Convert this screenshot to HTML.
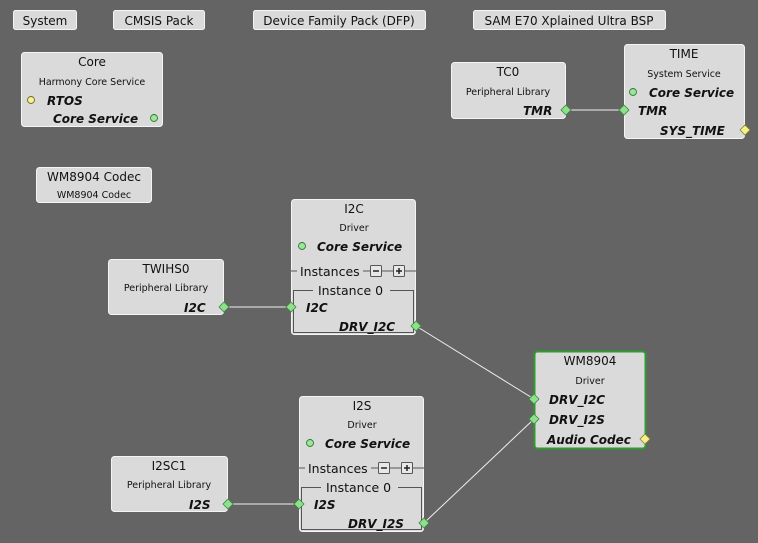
<!DOCTYPE html>
<html><head><meta charset="utf-8"><style>
html,body{margin:0;padding:0;background:#646464;}
svg{display:block;font-family:"DejaVu Sans","Liberation Sans",sans-serif;}
.b{fill:#dadada;stroke:#f4f4f4;stroke-width:1;}
.t{font-size:12px;fill:#111;text-anchor:middle;}
.s{font-size:9.5px;fill:#111;text-anchor:middle;}
.p{font-size:12px;font-weight:bold;font-style:italic;fill:#111;}
.d{fill:#8ee08e;stroke:#3a8a3a;stroke-width:0.8;}
.y{fill:#f4f08a;stroke:#8a8530;stroke-width:0.8;}
.g{fill:#9de59d;stroke:#2f7a2f;stroke-width:0.9;}
.yc{fill:#f6f29a;stroke:#6f6a20;stroke-width:0.9;}
</style></head><body>
<svg width="758" height="543" viewBox="0 0 758 543">
<!-- top buttons -->
<rect class="b" x="13.5" y="10.5" width="63" height="19" rx="2"/><text class="t" x="45" y="25">System</text>
<rect class="b" x="113.5" y="10.5" width="91" height="19" rx="2"/><text class="t" x="159" y="25">CMSIS Pack</text>
<rect class="b" x="253.5" y="10.5" width="172" height="19" rx="2"/><text class="t" x="339" y="25">Device Family Pack (DFP)</text>
<rect class="b" x="473.5" y="10.5" width="192" height="19" rx="2"/><text class="t" x="569" y="25">SAM E70 Xplained Ultra BSP</text>

<!-- connectors -->
<g stroke="#f0f0f0" stroke-width="1">
<line x1="566" y1="110" x2="624" y2="110"/>
<line x1="224" y1="307" x2="291" y2="307"/>
<line x1="228" y1="504" x2="299" y2="504"/>
<line x1="416" y1="326" x2="534" y2="399"/>
<line x1="424" y1="523" x2="534" y2="419"/>
</g>

<!-- Core -->
<rect class="b" x="21.5" y="52.5" width="141" height="74" rx="3"/>
<text class="t" x="92" y="66">Core</text>
<text class="s" x="92" y="85">Harmony Core Service</text>
<circle class="yc" cx="31" cy="100" r="3.5"/><text class="p" x="47" y="105">RTOS</text>
<text class="p" x="53" y="123">Core Service</text><circle class="g" cx="154" cy="118" r="3.5"/>

<!-- WM8904 Codec -->
<rect class="b" x="36.5" y="167.5" width="115" height="35" rx="3"/>
<text class="t" x="94" y="181">WM8904 Codec</text>
<text class="s" x="94" y="198">WM8904 Codec</text>

<!-- TC0 -->
<rect class="b" x="451.5" y="62.5" width="114" height="56" rx="3"/>
<text class="t" x="508" y="76">TC0</text>
<text class="s" x="508" y="95">Peripheral Library</text>
<text class="p" x="523" y="115">TMR</text>

<!-- TIME -->
<rect class="b" x="624.5" y="44.5" width="120" height="94" rx="3"/>
<text class="t" x="684" y="58">TIME</text>
<text class="s" x="684" y="77">System Service</text>
<circle class="g" cx="633" cy="92" r="3.5"/><text class="p" x="649" y="97">Core Service</text>
<text class="p" x="638" y="115">TMR</text>
<text class="p" x="660" y="135">SYS_TIME</text>

<!-- I2C -->
<rect class="b" x="291.5" y="199.5" width="124" height="135" rx="3"/>
<text class="t" x="354" y="213">I2C</text>
<text class="s" x="354" y="231">Driver</text>
<circle class="g" cx="302" cy="246" r="3.5"/><text class="p" x="317" y="251">Core Service</text>
<line x1="291" y1="271" x2="297" y2="271" stroke="#555"/><text x="300" y="276" style="font-size:12.5px;fill:#111">Instances</text>
<line x1="363" y1="271" x2="416" y2="271" stroke="#555"/>
<rect x="370.5" y="265.5" width="11" height="11" fill="#e8e8e8" stroke="#555" rx="1"/><line x1="373" y1="271" x2="379" y2="271" stroke="#222" stroke-width="1.5"/>
<rect x="393.5" y="265.5" width="11" height="11" fill="#e8e8e8" stroke="#555" rx="1"/><line x1="396" y1="271" x2="402" y2="271" stroke="#222" stroke-width="1.5"/><line x1="399" y1="268" x2="399" y2="274" stroke="#222" stroke-width="1.5"/>
<path d="M313 290.5 H293.5 V332.5 H413.5 V290.5 H390" fill="none" stroke="#555"/>
<text x="318" y="295" style="font-size:12.5px;fill:#111">Instance 0</text>
<text class="p" x="306" y="312">I2C</text>
<text class="p" x="339" y="331">DRV_I2C</text>

<!-- TWIHS0 -->
<rect class="b" x="108.5" y="259.5" width="115" height="55" rx="3"/>
<text class="t" x="166" y="273">TWIHS0</text>
<text class="s" x="166" y="291">Peripheral Library</text>
<text class="p" x="184" y="312">I2C</text>

<!-- I2S -->
<rect class="b" x="299.5" y="396.5" width="124" height="135" rx="3"/>
<text class="t" x="362" y="410">I2S</text>
<text class="s" x="362" y="428">Driver</text>
<circle class="g" cx="310" cy="443" r="3.5"/><text class="p" x="325" y="448">Core Service</text>
<line x1="299" y1="468" x2="305" y2="468" stroke="#555"/><text x="308" y="473" style="font-size:12.5px;fill:#111">Instances</text>
<line x1="371" y1="468" x2="424" y2="468" stroke="#555"/>
<rect x="378.5" y="462.5" width="11" height="11" fill="#e8e8e8" stroke="#555" rx="1"/><line x1="381" y1="468" x2="387" y2="468" stroke="#222" stroke-width="1.5"/>
<rect x="401.5" y="462.5" width="11" height="11" fill="#e8e8e8" stroke="#555" rx="1"/><line x1="404" y1="468" x2="410" y2="468" stroke="#222" stroke-width="1.5"/><line x1="407" y1="465" x2="407" y2="471" stroke="#222" stroke-width="1.5"/>
<path d="M321 487.5 H301.5 V529.5 H421.5 V487.5 H398" fill="none" stroke="#555"/>
<text x="326" y="492" style="font-size:12.5px;fill:#111">Instance 0</text>
<text class="p" x="314" y="509">I2S</text>
<text class="p" x="348" y="528">DRV_I2S</text>

<!-- I2SC1 -->
<rect class="b" x="111.5" y="456.5" width="116" height="55" rx="3"/>
<text class="t" x="169" y="470">I2SC1</text>
<text class="s" x="169" y="488">Peripheral Library</text>
<text class="p" x="189" y="509">I2S</text>

<!-- WM8904 -->
<rect x="534.5" y="351.5" width="111" height="97" rx="3" fill="#dadada" stroke="#2f9a2f" stroke-width="2"/>
<text class="t" x="590" y="365">WM8904</text>
<text class="s" x="590" y="384">Driver</text>
<text class="p" x="549" y="404">DRV_I2C</text>
<text class="p" x="549" y="424">DRV_I2S</text>
<text class="p" x="547" y="444">Audio Codec</text>

<!-- diamonds -->
<g>
<path class="d" d="M566 105 L571 110 L566 115 L561 110Z"/>
<path class="d" d="M624 105 L629 110 L624 115 L619 110Z"/>
<path class="y" d="M745 125 L750 130 L745 135 L740 130Z"/>
<path class="d" d="M224 302 L229 307 L224 312 L219 307Z"/>
<path class="d" d="M291 302 L296 307 L291 312 L286 307Z"/>
<path class="d" d="M416 321 L421 326 L416 331 L411 326Z"/>
<path class="d" d="M228 499 L233 504 L228 509 L223 504Z"/>
<path class="d" d="M299 499 L304 504 L299 509 L294 504Z"/>
<path class="d" d="M424 518 L429 523 L424 528 L419 523Z"/>
<path class="d" d="M534 394 L539 399 L534 404 L529 399Z"/>
<path class="d" d="M534 414 L539 419 L534 424 L529 419Z"/>
<path class="y" d="M645 434 L650 439 L645 444 L640 439Z"/>
</g>
</svg>
</body></html>
